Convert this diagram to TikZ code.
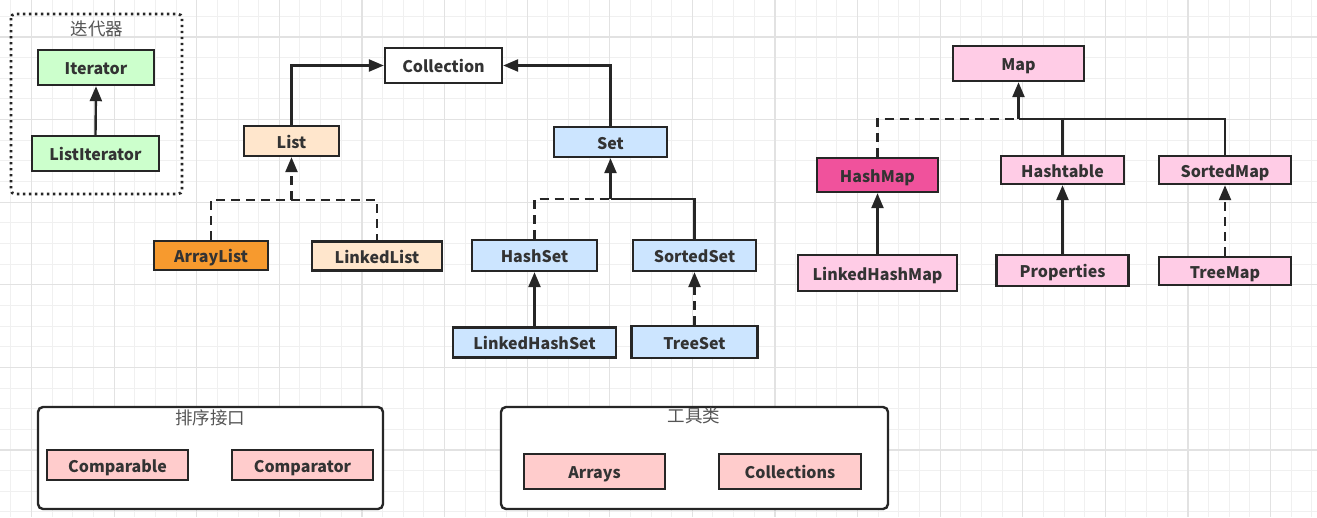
\documentclass[tikz,border=0pt]{standalone}
\usepackage{fontspec}
\setmainfont{Noto Sans CJK SC}
\usetikzlibrary{arrows.meta}
\definecolor{edge}{HTML}{262626}
\definecolor{txt}{HTML}{333333}
\definecolor{lbl}{HTML}{555555}
\definecolor{cgreen}{HTML}{CCFFCC}
\definecolor{cpeach}{HTML}{FFE6CC}
\definecolor{corange}{HTML}{F79A2E}
\definecolor{cblue}{HTML}{CCE5FF}
\definecolor{cpink}{HTML}{FFCCE6}
\definecolor{chot}{HTML}{F0529C}
\definecolor{cred}{HTML}{FFCCCC}
\definecolor{gminor}{HTML}{F0F0F0}
\definecolor{gmajor}{HTML}{E2E2E2}
\tikzset{
  box/.style={draw=edge, line width=2.4pt, text=txt, inner sep=0pt,
    text height=14pt, text depth=0pt,
    font=\fontsize{16}{19}\selectfont\bfseries},
  frame/.style={draw=edge, line width=2.4pt, rounded corners=5pt, fill=white},
  grouplabel/.style={text=lbl, font=\fontsize{17.5}{20}\selectfont, inner sep=0pt},
  link/.style={draw=edge, line width=2.4pt},
  arr/.style={link, -{Triangle[length=15pt,width=12pt]}},
  dsh/.style={dash pattern=on 9pt off 6pt},
}
\begin{document}
\begin{tikzpicture}[x=1pt,y=-1pt]
\useasboundingbox (0,0) rectangle (1317,517);
\fill[white] (0,0) rectangle (1317,517);
% grid
\foreach \i in {-1,...,63} {
  \draw[gminor, line width=1pt] ({31.5+20.65*\i},0) -- ({31.5+20.65*\i},517);
}
\foreach \i in {-1,...,24} {
  \draw[gminor, line width=1pt] (0,{37+20.65*\i}) -- (1317,{37+20.65*\i});
}
\foreach \i in {0,...,15} {
  \draw[gmajor, line width=1.2pt] ({31.5+82.6*\i},0) -- ({31.5+82.6*\i},517);
}
\foreach \i in {0,...,5} {
  \draw[gmajor, line width=1.2pt] (0,{37+82.6*\i}) -- (1317,{37+82.6*\i});
}

% iterator group
\draw[draw=edge, line width=2.8pt, dash pattern=on 2.4pt off 3.6pt, rounded corners=4pt] (11,14) rectangle (182,194);
\node[grouplabel] (itlbl) at (97,29) {迭代器};
\node[box, fill=cgreen, minimum width=116, minimum height=35] (iter) at (96,67.5) {Iterator};
\node[box, fill=cgreen, minimum width=127, minimum height=35] (liter) at (95.5,153.5) {ListIterator};
\draw[arr] (liter.north) -- (iter.south);

% collection
\node[box, fill=white, minimum width=117, minimum height=35] (coll) at (443.5,65.5) {Collection};
\node[box, fill=cpeach, minimum width=95, minimum height=30] (list) at (291.5,141) {List};
\node[box, fill=cblue, minimum width=113, minimum height=30] (set) at (610.5,142) {Set};
\draw[arr] (list.north) |- (coll.west);
\draw[arr] (set.north) |- (coll.east);

\node[box, fill=corange, minimum width=114, minimum height=29] (alist) at (211,255.5) {ArrayList};
\node[box, fill=cpeach, minimum width=130, minimum height=29] (llist) at (377,256) {LinkedList};
\coordinate (jl) at (291.5,200);
\draw[link, dsh] (alist.north) |- (jl) -| (llist.north);
\draw[arr, dsh] (jl) -- (list.south);

\node[box, fill=cblue, minimum width=125, minimum height=31] (hset) at (534.5,255.5) {HashSet};
\node[box, fill=cblue, minimum width=123, minimum height=31] (sset) at (694.5,255.5) {SortedSet};
\node[box, fill=cblue, minimum width=163, minimum height=30] (lhset) at (534.5,342.5) {LinkedHashSet};
\node[box, fill=cblue, minimum width=126, minimum height=32] (tset) at (694.5,342) {TreeSet};
\coordinate (js) at (610.5,199);
\draw[link, dsh] (hset.north) |- (js);
\draw[link] (sset.north) |- (js);
\draw[arr] (js) -- (set.south);
\draw[arr] (lhset.north) -- (hset.south);
\draw[arr, dsh] (tset.north) -- (sset.south);

% map
\node[box, fill=cpink, minimum width=131, minimum height=35] (map) at (1018.5,63.5) {Map};
\node[box, fill=chot, minimum width=121, minimum height=34] (hmap) at (877.5,175) {HashMap};
\node[box, fill=cpink, minimum width=123, minimum height=28] (htab) at (1062.5,170) {Hashtable};
\node[box, fill=cpink, minimum width=132, minimum height=28] (smap) at (1225,170) {SortedMap};
\node[box, fill=cpink, minimum width=159, minimum height=36] (lhmap) at (877.5,273) {LinkedHashMap};
\node[box, fill=cpink, minimum width=132, minimum height=31] (prop) at (1062.5,270.5) {Properties};
\node[box, fill=cpink, minimum width=132, minimum height=28] (tmap) at (1225,271) {TreeMap};
\coordinate (jm) at (1018.5,119);
\draw[link, dsh] (hmap.north) |- (jm);
\draw[link] (smap.north) |- (jm);
\draw[link] (htab.north) -- (htab.north |- jm);
\draw[arr] (jm) -- (map.south);
\draw[arr] (lhmap.north) -- (hmap.south);
\draw[arr] (prop.north) -- (htab.south);
\draw[arr, dsh] (tmap.north) -- (smap.south);

% sorting interfaces
\draw[frame] (38,407) rectangle (383,509);
\node[grouplabel] (sortlbl) at (210,418) {排序接口};
\node[box, fill=cred, minimum width=141, minimum height=30] (cmpb) at (117.5,465) {Comparable};
\node[box, fill=cred, minimum width=141, minimum height=30] (cmpt) at (302.5,465) {Comparator};

% tools
\draw[frame] (501,407) rectangle (888,509);
\node[grouplabel] (toollbl) at (694,416) {工具类};
\node[box, fill=cred, minimum width=141, minimum height=35] (arrs) at (594.5,471.5) {Arrays};
\node[box, fill=cred, minimum width=142, minimum height=35] (colls) at (790,471.5) {Collections};
\end{tikzpicture}
\end{document}
